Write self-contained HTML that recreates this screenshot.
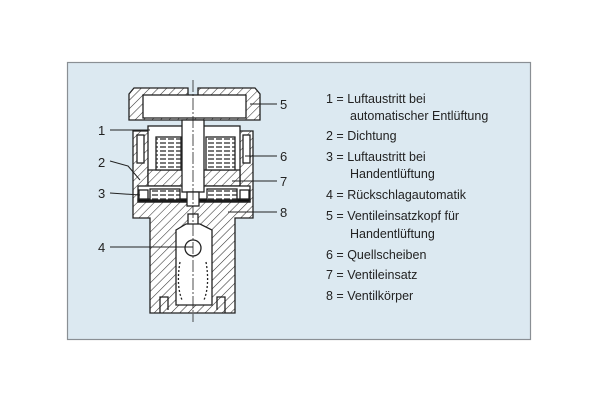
<!DOCTYPE html>
<html><head><meta charset="utf-8"><style>
html,body{margin:0;padding:0;background:#fff;width:600px;height:400px;overflow:hidden}
</style></head><body>
<svg width="600" height="400" viewBox="0 0 600 400" xmlns="http://www.w3.org/2000/svg">
<defs>
<pattern id="h" patternUnits="userSpaceOnUse" width="6" height="6" patternTransform="rotate(45)">
<rect width="6" height="6" fill="#fff"/><line x1="0" y1="0" x2="0" y2="6" stroke="#333" stroke-width="1.1"/></pattern>
<pattern id="c" patternUnits="userSpaceOnUse" width="8" height="4">
<rect width="8" height="4" fill="#fff"/><line x1="0" y1="3" x2="6" y2="3" stroke="#333" stroke-width="1.3"/></pattern>
</defs>
<rect x="67.5" y="62.5" width="463" height="277" fill="#dce9f1" stroke="#8a8f94" stroke-width="1.2"/>
<g stroke="#222" stroke-width="1.3">
<path d="M129 94 L134 88 L188 88 L188 99 L198 99 L198 88 L255 88 L260 94 L260 120 L129 120 Z" fill="url(#h)"/>
<rect x="143" y="95" width="103" height="23" fill="#fff"/>
<path d="M133 131 L253 131 L253 218 L235 218 L235 313 L150 313 L150 218 L133 218 Z" fill="url(#h)"/>
<rect x="148" y="126" width="92" height="58" fill="#fff"/>
<path d="M148 170 L240 170 L240 186 L148 186 Z" fill="url(#h)"/>
<rect x="137" y="135" width="7" height="28" fill="#fff"/>
<rect x="243" y="135" width="7" height="28" fill="#fff"/>
<rect x="156" y="137" width="25" height="33" fill="url(#c)"/>
<rect x="206" y="137" width="29" height="33" fill="url(#c)"/>
<rect x="138" y="186" width="112" height="16" fill="#fff"/>
<rect x="138" y="199" width="112" height="3" fill="#111"/>
<rect x="150" y="189" width="30" height="11" fill="url(#c)"/>
<rect x="207" y="189" width="30" height="11" fill="url(#c)"/>
<rect x="139" y="190" width="9" height="9" fill="#fff"/>
<rect x="240" y="190" width="9" height="9" fill="#fff"/>
<rect x="182" y="120" width="22" height="72" fill="#fff"/>
<rect x="187" y="192" width="12" height="14" fill="#fff"/>
<rect x="188" y="214" width="10" height="14" fill="#fff"/>
<path d="M176 230 L186 224 L200 224 L212 230 L212 305 L176 305 Z" fill="#fff"/>
<path d="M160 313 L160 297 L168 297 L168 310 M225 313 L225 297 L217 297 L217 310" fill="none"/>
<circle cx="193" cy="248" r="8" fill="#fff"/>
<path d="M180 262 Q176 285 182 300 M206 262 Q210 285 204 300" fill="none" stroke-dasharray="2 2"/>
</g>
<line x1="193" y1="80" x2="193" y2="322" stroke="#222" stroke-width="0.8" stroke-dasharray="12 2 2 2"/>
<g stroke="#222" stroke-width="1">
<line x1="110" y1="130" x2="150" y2="130"/>
<path d="M110 161 L128 166 L140 180" fill="none"/>
<line x1="110" y1="193" x2="140" y2="195"/>
<line x1="110" y1="247" x2="193" y2="247"/>
<line x1="250" y1="104" x2="277" y2="104"/>
<line x1="245" y1="156" x2="277" y2="156"/>
<line x1="232" y1="181" x2="277" y2="181"/>
<line x1="228" y1="212" x2="277" y2="212"/>
</g>
<g font-family="Liberation Sans, sans-serif" font-size="13" fill="#222">
<text x="98" y="135">1</text><text x="98" y="167">2</text><text x="98" y="198">3</text><text x="98" y="252">4</text>
<text x="280" y="109">5</text><text x="280" y="161">6</text><text x="280" y="186">7</text><text x="280" y="217">8</text>
</g>
<g font-family="Liberation Sans, sans-serif" font-size="12.5" fill="#222">
<text x="326" y="103">1 = Luftaustritt bei</text>
<text x="350" y="120">automatischer Entlüftung</text>
<text x="326" y="140">2 = Dichtung</text>
<text x="326" y="161">3 = Luftaustritt bei</text>
<text x="350" y="178">Handentlüftung</text>
<text x="326" y="199">4 = Rückschlagautomatik</text>
<text x="326" y="220">5 = Ventileinsatzkopf für</text>
<text x="350" y="238">Handentlüftung</text>
<text x="326" y="259">6 = Quellscheiben</text>
<text x="326" y="279">7 = Ventileinsatz</text>
<text x="326" y="300">8 = Ventilkörper</text>
</g>
</svg>
</body></html>
